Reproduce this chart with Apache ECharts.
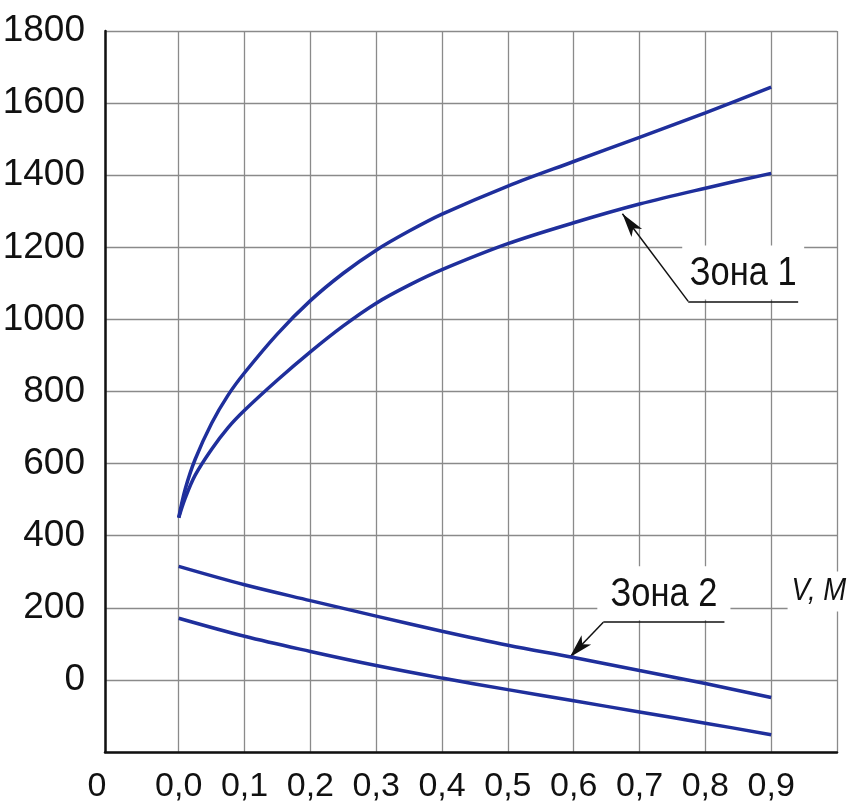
<!DOCTYPE html>
<html><head><meta charset="utf-8">
<script src="https://cdn.jsdelivr.net/npm/echarts@6/dist/echarts.min.js"></script>
<style>html,body{margin:0;padding:0;background:#fff}#c{width:850px;height:802px}</style>
</head><body><div id="c"></div>
<script>
const FONT = "'Liberation Sans',Arial,sans-serif";

// X axis: grid-line positions and labelled values (the first one is the "0" at the axis origin)
const xMin = -0.112;
const xGridValues = [-0.112, 0, 0.1, 0.2, 0.3, 0.4, 0.5, 0.6, 0.7, 0.8, 0.9, 1.0];
const xLabelValues = [-0.112, 0, 0.1, 0.2, 0.3, 0.4, 0.5, 0.6, 0.7, 0.8, 0.9];

// Zone 1 curves
const zone1X     = [0, 0.01, 0.025, 0.05, 0.075, 0.1, 0.15, 0.2, 0.25, 0.3, 0.35, 0.4, 0.5, 0.6, 0.7, 0.8, 0.9];
const zone1Upper = [450, 530, 612, 712, 790, 852, 960, 1052, 1128, 1192, 1245, 1292, 1370, 1438, 1505, 1573, 1644];
const zone1Lower = [450, 505, 568, 640, 700, 748, 832, 910, 982, 1045, 1095, 1138, 1210, 1268, 1320, 1364, 1405];

// Zone 2 curves
const zone2X     = [0, 0.1, 0.2, 0.3, 0.4, 0.5, 0.6, 0.7, 0.8, 0.9];
const zone2Upper = [315, 264, 220, 177, 135, 96, 62, 26, -10, -49];
const zone2Lower = [171, 121, 79, 40, 5, -27, -58, -89, -120, -152];

// Annotations (data coordinates)
const notes = [
  {text: 'Зона 1', tip: [0.674, 1293], elbow: [0.774, 1050], end: [0.941, 1050]},
  {text: 'Зона 2', tip: [0.594, 63],   elbow: [0.645, 160],  end: [0.829, 160]}
];
const axisNameText = 'V, M';
const axisNameAt = [0.931, 245];

const pair = (xs, ys) => xs.map((x, i) => [x, ys[i]]);
const CURVE = '#1f2f9c';

function leader(n) {
  return [
    [{coord: n.elbow, symbol: 'none'}, {coord: n.tip, symbol: 'arrow', symbolSize: [10, 24]}],
    [{coord: n.elbow, symbol: 'none'}, {coord: n.end, symbol: 'none'}]
  ];
}

function mkSeries(name, xs, ys, note) {
  const s = {
    name, type: 'line', data: pair(xs, ys), smooth: 0.35, symbol: 'none',
    lineStyle: {color: CURVE, width: 3.5}, z: 5, silent: true
  };
  if (note) {
    s.markLine = {
      silent: true, animation: false,
      lineStyle: {color: '#111', width: 1.5, type: 'solid'},
      itemStyle: {color: '#111'},
      label: {show: false},
      data: leader(note)
    };
  }
  return s;
}

const chart = echarts.init(document.getElementById('c'), null, {renderer: 'canvas'});
chart.setOption({
  animation: false,
  backgroundColor: '#fff',
  grid: {left: 105, right: 13, top: 31, bottom: 50, containLabel: false, outerBoundsMode: 'none'},
  xAxis: {
    type: 'value', min: xMin, max: 1.0,
    axisLine: {onZero: false, lineStyle: {color: '#111', width: 2.5}},
    axisTick: {show: false, customValues: xGridValues},
    splitLine: {show: true, lineStyle: {color: '#8a8a8a', width: 1.3}},
    axisLabel: {
      customValues: xLabelValues,
      fontFamily: FONT, fontSize: 34, color: '#111', margin: 18,
      formatter: v => v < -0.05 ? '{z|0}' : (Math.round(v * 10) / 10).toFixed(1).replace('.', ','),
      rich: {z: {fontFamily: FONT, fontSize: 34, color: '#111', padding: [0, 16, 0, 0]}}
    }
  },
  yAxis: {
    type: 'value', min: -200, max: 1800, interval: 200,
    axisLine: {show: true, onZero: false, lineStyle: {color: '#111', width: 2.5}},
    axisTick: {show: false},
    splitLine: {show: true, lineStyle: {color: '#8a8a8a', width: 1.3}},
    axisLabel: {
      fontFamily: FONT, fontSize: 37, color: '#111', margin: 20,
      formatter: v => v === -200 ? '' : String(v)
    }
  },
  series: [
    mkSeries('z1u', zone1X, zone1Upper),
    mkSeries('z1l', zone1X, zone1Lower, notes[0]),
    mkSeries('z2u', zone2X, zone2Upper, notes[1]),
    mkSeries('z2l', zone2X, zone2Lower)
  ]
});

const g = [];
notes.forEach(n => {
  const a = chart.convertToPixel({gridIndex: 0}, n.elbow);
  const b = chart.convertToPixel({gridIndex: 0}, n.end);
  g.push({type: 'rect', z: 3, silent: true,
    shape: {x: a[0] - 6, y: a[1] - 56, width: b[0] - a[0] + 12, height: 54},
    style: {fill: '#fff'}});
  g.push({type: 'text', z: 10, silent: true,
    x: (a[0] + b[0]) / 2, y: a[1] - 28, scaleX: 0.84,
    style: {text: n.text, x: 0, y: 0, align: 'center', verticalAlign: 'middle',
      font: '41px ' + FONT, fill: '#111'}});
});
const p = chart.convertToPixel({gridIndex: 0}, axisNameAt);
g.push({type: 'rect', z: 3, silent: true, shape: {x: p[0] - 4, y: p[1] - 20, width: 62, height: 40}, style: {fill: '#fff'}});
g.push({type: 'text', z: 10, silent: true, x: p[0], y: p[1], scaleX: 0.86,
  style: {text: axisNameText, x: 0, y: 0, align: 'left', verticalAlign: 'middle',
    font: 'italic 32px ' + FONT, fill: '#111'}});
chart.setOption({graphic: g});
</script>
</body></html>
